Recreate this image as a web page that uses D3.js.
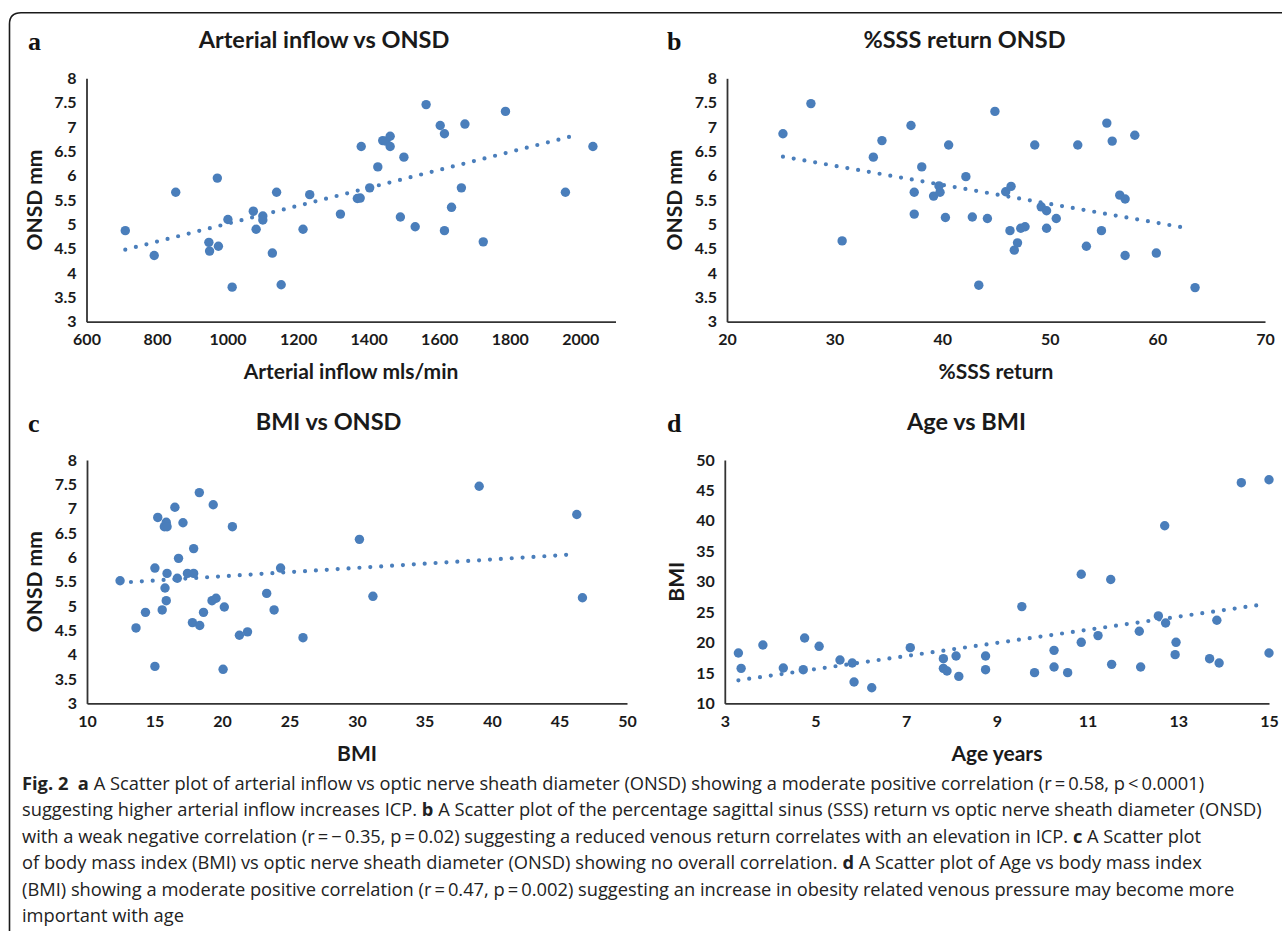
<!DOCTYPE html>
<html>
<head>
<meta charset="utf-8">
<script src="https://cdn.jsdelivr.net/npm/d3@7"></script>
<style>
  body { margin: 0; background: #fff; }
  .tick text { font-family: Lato, "Open Sans", sans-serif; font-weight: 700; font-size: 16px; fill: #1a1a1a; }
  .ttl { font-family: Lato, "Open Sans", sans-serif; font-weight: 700; font-size: 23.5px; fill: #1a1a1a; }
  .lbl { font-family: Lato, "Open Sans", sans-serif; font-weight: 700; font-size: 21px; fill: #1a1a1a; }
  .letter { font-family: "Liberation Serif", "DejaVu Serif", serif; font-weight: 700; font-size: 26px; fill: #111; }
  .cap { font-family: "Open Sans", "Noto Sans", sans-serif; font-size: 17px; fill: #222; }
</style>
</head>
<body>
<div id="chart"></div>
<script>
// ---- data ----
const onsdTicks = [3, 3.5, 4, 4.5, 5, 5.5, 6, 6.5, 7, 7.5, 8];
const inflowTicks = [600, 800, 1000, 1200, 1400, 1600, 1800, 2000];
const sssTicks = [20, 30, 40, 50, 60, 70];
const bmiTicks = [10, 15, 20, 25, 30, 35, 40, 45, 50];
const ageTicks = [3, 5, 7, 9, 11, 13, 15];

// a: arterial inflow vs ONSD
const inflow = [710, 792, 853, 947, 949, 971, 974, 1001, 1013, 1073, 1081, 1100, 1100, 1127, 1139, 1152, 1214, 1233, 1320, 1368, 1376, 1379, 1403, 1426, 1440, 1449, 1461, 1461, 1490, 1500, 1532, 1563, 1603, 1615, 1615, 1635, 1663, 1673, 1725, 1788, 1958, 2036];
const inflowOnsd = [4.87, 4.36, 5.66, 4.63, 4.45, 5.95, 4.55, 5.10, 3.71, 5.27, 4.90, 5.17, 5.09, 4.41, 5.66, 3.76, 4.90, 5.61, 5.21, 5.53, 5.54, 6.60, 5.75, 6.18, 6.72, 6.71, 6.81, 6.60, 5.15, 6.38, 4.95, 7.46, 7.03, 6.86, 4.87, 5.35, 5.75, 7.06, 4.64, 7.32, 5.66, 6.60];
const inflowTrend = [[710, 4.48], [1987, 6.83]];

// b: %SSS return vs ONSD
const sss = [25.2, 27.8, 30.7, 33.6, 34.4, 37.1, 37.4, 37.4, 38.1, 39.2, 39.7, 39.8, 40.3, 40.6, 42.2, 42.8, 43.4, 44.2, 44.9, 45.9, 46.4, 46.3, 46.7, 47.0, 47.3, 47.7, 48.6, 49.2, 49.7, 49.7, 50.6, 52.6, 53.4, 54.8, 55.3, 55.8, 56.5, 57.0, 57.0, 57.9, 59.9, 63.5];
const sssOnsd = [6.86, 7.48, 4.66, 6.38, 6.72, 7.03, 5.66, 5.21, 6.18, 5.58, 5.79, 5.66, 5.14, 6.63, 5.98, 5.15, 3.75, 5.12, 7.32, 5.67, 5.78, 4.87, 4.47, 4.62, 4.92, 4.95, 6.63, 5.36, 5.28, 4.92, 5.12, 6.63, 4.55, 4.87, 7.08, 6.71, 5.60, 5.52, 4.36, 6.83, 4.41, 3.70];
const sssTrend = [[25.2, 6.39], [62.8, 4.92]];

// c: BMI vs ONSD
const bmi = [12.45, 13.63, 14.33, 15.03, 15.03, 15.24, 15.57, 15.73, 15.78, 15.87, 15.87, 15.93, 15.93, 16.51, 16.69, 16.78, 17.11, 17.44, 17.81, 17.90, 17.90, 18.32, 18.35, 18.63, 19.26, 19.35, 19.56, 20.08, 20.17, 20.77, 21.29, 21.89, 23.31, 23.86, 24.34, 26.0, 30.18, 31.18, 39.05, 46.28, 46.70];
const bmiOnsd = [5.52, 4.55, 4.87, 3.76, 5.78, 6.82, 4.92, 6.63, 5.37, 6.72, 5.11, 5.67, 6.63, 7.03, 5.57, 5.98, 6.71, 5.67, 4.66, 5.67, 6.18, 7.33, 4.60, 4.87, 5.11, 7.08, 5.16, 3.70, 4.98, 6.63, 4.40, 4.47, 5.26, 4.92, 5.78, 4.35, 6.37, 5.20, 7.46, 6.88, 5.17];
const bmiTrend = [[12.45, 5.48], [46.0, 6.06]];

// d: age vs BMI
const age = [3.30, 3.36, 3.84, 4.29, 4.73, 4.76, 5.08, 5.54, 5.81, 5.85, 6.24, 7.09, 7.82, 7.82, 7.90, 8.10, 8.16, 8.75, 8.75, 9.55, 9.83, 10.26, 10.26, 10.56, 10.86, 10.86, 11.23, 11.51, 11.53, 12.14, 12.17, 12.56, 12.70, 12.72, 12.93, 12.95, 13.69, 13.85, 13.90, 14.39, 15.0, 15.0];
const ageBmi = [18.28, 15.76, 19.60, 15.82, 15.54, 20.75, 19.38, 17.13, 16.64, 13.51, 12.58, 19.16, 17.35, 15.76, 15.32, 17.79, 14.44, 17.79, 15.54, 25.91, 15.05, 18.72, 15.98, 15.05, 31.23, 20.04, 21.14, 30.36, 16.42, 21.85, 15.98, 24.38, 39.19, 23.22, 18.01, 20.04, 17.35, 23.66, 16.64, 46.27, 46.76, 18.28];
const ageBmiTicks = [10, 15, 20, 25, 30, 35, 40, 45, 50];
const ageTrend = [[3.3, 13.8], [14.9, 26.3]];

const captionLines = [
  [["Fig. 2", true], ["  ", false], ["a", true], [" A Scatter plot of arterial inflow vs optic nerve sheath diameter (ONSD) showing a moderate positive correlation (r\u2009=\u20090.58, p\u2009<\u20090.0001)", false]],
  [["suggesting higher arterial inflow increases ICP. ", false], ["b", true], [" A Scatter plot of the percentage sagittal sinus (SSS) return vs optic nerve sheath diameter (ONSD)", false]],
  [["with a weak negative correlation (r\u2009=\u2009\u2212\u20090.35, p\u2009=\u20090.02) suggesting a reduced venous return correlates with an elevation in ICP. ", false], ["c", true], [" A Scatter plot", false]],
  [["of body mass index (BMI) vs optic nerve sheath diameter (ONSD) showing no overall correlation. ", false], ["d", true], [" A Scatter plot of Age vs body mass index", false]],
  [["(BMI) showing a moderate positive correlation (r\u2009=\u20090.47, p\u2009=\u20090.002) suggesting an increase in obesity related venous pressure may become more", false]],
  [["important with age", false]]
];

// ---- layout ----
const width = 1282, height = 931;
const blue = "#4a7ebb";
const rowOff = 381.7;

const svg = d3.select("#chart")
  .append("svg")
    .attr("width", width)
    .attr("height", height);

// frame (top + left with rounded corner)
svg.append("path")
  .attr("d", `M9.5,${height} V24 Q9.5,12.7 21,12.7 H${width}`)
  .attr("fill", "none")
  .attr("stroke", "#1a1a1a")
  .attr("stroke-width", 1.6);

const panels = [
  {letter: "a", title: "Arterial inflow vs ONSD", xLabel: "Arterial inflow mls/min", yLabel: "ONSD mm",
   xs: inflow, ys: inflowOnsd, trend: inflowTrend, xDom: [600, 2100], yDom: [3, 8], xTicks: inflowTicks, yTicks: onsdTicks,
   left: 86.5, right: 615.5, off: 0, letterX: 28, titleX: 324, yLabelX: 35},
  {letter: "b", title: "%SSS return ONSD", xLabel: "%SSS  return", yLabel: "ONSD mm",
   xs: sss, ys: sssOnsd, trend: sssTrend, xDom: [20, 70], yDom: [3, 8], xTicks: sssTicks, yTicks: onsdTicks,
   left: 727, right: 1265, off: 0, letterX: 667, titleX: 964.5, yLabelX: 675},
  {letter: "c", title: "BMI vs ONSD", xLabel: "BMI", yLabel: "ONSD mm",
   xs: bmi, ys: bmiOnsd, trend: bmiTrend, xDom: [10, 50], yDom: [3, 8], xTicks: bmiTicks, yTicks: onsdTicks,
   left: 87, right: 627, off: rowOff, letterX: 28, titleX: 328.6, yLabelX: 35},
  {letter: "d", title: "Age vs BMI", xLabel: "Age years", yLabel: "BMI",
   xs: age, ys: ageBmi, trend: ageTrend, xDom: [3, 15], yDom: [10, 50], xTicks: ageTicks, yTicks: ageBmiTicks,
   left: 724.8, right: 1269, off: rowOff, letterX: 667, titleX: 966.5, yLabelX: 677}
];

const fmt = d => (d % 1 ? d.toFixed(1) : String(d));

panels.forEach(p => {
  const top = 78.3 + p.off, bottom = 321.7 + p.off;
  const x = d3.scaleLinear().domain(p.xDom).range([p.left, p.right]);
  const y = d3.scaleLinear().domain(p.yDom).range([bottom, top]);
  const g = svg.append("g");

  // letter + title
  g.append("text").attr("class", "letter")
    .attr("x", p.letterX).attr("y", 50 + p.off).text(p.letter);
  g.append("text").attr("class", "ttl")
    .attr("x", p.titleX).attr("y", 48 + p.off)
    .attr("text-anchor", "middle").text(p.title);

  // axes
  const ax = g.append("g")
    .attr("transform", `translate(0,${bottom})`)
    .call(d3.axisBottom(x).tickValues(p.xTicks).tickSize(0).tickPadding(12).tickFormat(fmt));
  const ay = g.append("g")
    .attr("transform", `translate(${p.left},0)`)
    .call(d3.axisLeft(y).tickValues(p.yTicks).tickSize(0).tickPadding(10).tickFormat(fmt));
  [ax, ay].forEach(a => {
    a.select(".domain").attr("stroke", "#333").attr("stroke-width", 1.8);
    a.selectAll(".tick line").remove();
  });

  // axis titles
  g.append("text").attr("class", "lbl")
    .attr("x", (p.left + p.right) / 2).attr("y", 379 + p.off)
    .attr("text-anchor", "middle").text(p.xLabel);
  g.append("text").attr("class", "lbl")
    .attr("transform", `translate(${p.yLabelX + 7},${(top + bottom) / 2}) rotate(-90)`)
    .attr("text-anchor", "middle").text(p.yLabel);

  // trend line (dotted)
  g.append("path")
    .datum(p.trend)
    .attr("d", d3.line().x(d => x(d[0])).y(d => y(d[1])))
    .attr("fill", "none")
    .attr("stroke", blue)
    .attr("stroke-width", 4.2)
    .attr("stroke-linecap", "round")
    .attr("stroke-dasharray", "0 10.9");

  // points
  g.selectAll("circle")
    .data(p.xs.map((v, i) => [v, p.ys[i]]))
    .join("circle")
      .attr("cx", d => x(d[0]))
      .attr("cy", d => y(d[1]))
      .attr("r", 4.7)
      .attr("fill", blue);
});

// caption
const capG = svg.append("g");
const caps = captionLines.map((parts, i) => {
  const t = capG.append("text").attr("class", "cap")
    .attr("x", 22).attr("y", 790 + i * 26.4).attr("xml:space", "preserve");
  parts.forEach(([s, b]) => t.append("tspan").attr("font-weight", b ? 700 : 400).text(s));
  return t;
});
// fit font size so the long line (5th) spans like the reference
const w5 = caps[4].node().getComputedTextLength();
const fs = 17 * (1213 / w5);
caps.forEach(t => t.style("font-size", fs + "px"));
</script>
</body>
</html>
